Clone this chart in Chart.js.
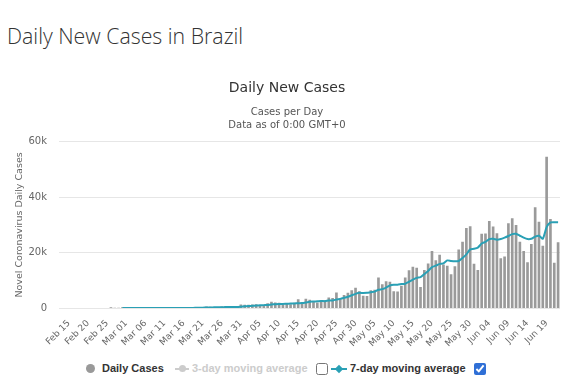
<!DOCTYPE html>
<html>
<head>
<meta charset="utf-8">
<script src="https://cdn.jsdelivr.net/npm/chart.js@4.4.0/dist/chart.umd.min.js"></script>
<style>
  body { margin: 0; background: #fff; width: 575px; height: 386px; overflow: hidden; position: relative; font-family: "DejaVu Sans", sans-serif; }
  #heading { position: absolute; left: 7px; top: 21px; margin: 0; font: 300 21.3px "Open Sans", sans-serif; color: #333; white-space: nowrap; }
  #wrap { position: absolute; left: 0; top: 61px; width: 575px; height: 290px; }
  .lg { position: absolute; font: bold 11px "Liberation Sans", sans-serif; color: #333; white-space: nowrap; line-height: 12px; }
  .dot { position: absolute; width: 9px; height: 9px; border-radius: 50%; background: #999; }
  .mk { position: absolute; height: 2px; }
  .cb { position: absolute; margin: 0; width: 12px; height: 12px; accent-color: #2f6fd6; }
</style>
</head>
<body>
<div id="heading">Daily New Cases in Brazil</div>
<div id="wrap"><canvas id="myChart"></canvas></div>

<div class="dot" style="left:86px; top:364px;"></div>
<div class="lg" style="left:102px; top:362px;">Daily Cases</div>
<div class="mk" style="left:175px; top:368px; width:14px; background:#ccc;"></div>
<div class="dot" style="left:179px; top:365px; width:7px; height:7px; background:#ccc;"></div>
<div class="lg" style="left:192px; top:362px; color:#ccc;">3-day moving average</div>
<input class="cb" type="checkbox" style="left:316px; top:363px;">
<div class="mk" style="left:331px; top:368px; width:16px; background:#2aa0b5;"></div>
<div class="mk" style="left:336px; top:366px; width:6px; height:6px; background:#2aa0b5; transform:rotate(45deg);"></div>
<div class="lg" style="left:350px; top:362px;">7-day moving average</div>
<input class="cb" type="checkbox" checked style="left:474px; top:363px;">

<script>
// daily new cases, Feb 15 .. Jun 22 (null before the first case)
var dailyCases = [
  null, null, null, null, null, null, null, null, null, null, null,
  1, 0, 0, 1,
  // March
  0, 0, 0, 2, 5, 5, 6, 6, 0, 9, 18, 25, 21, 23, 79, 34, 57, 137, 193, 283,
  224, 418, 345, 310, 232, 482, 502, 487, 352, 323, 1138,
  // April
  1119, 1074, 1146, 1222, 852, 926, 1661, 2210, 1930, 1781, 1089, 1442, 1261, 1832, 3058,
  2105, 3257, 2917, 2055, 1927, 2498, 2678, 3735, 3503, 5514, 3379, 4613, 5385, 6276, 7218,
  // May
  6000, 4300, 4200, 6300, 6500, 10900, 8500, 9600, 9400, 6000, 5900, 7900, 10900, 13500, 14800,
  14400, 7500, 13600, 16000, 20500, 17100, 19100, 15600, 15200, 12100, 15000, 21000, 23800, 28800, 29400, 15900,
  // June
  13600, 26700, 26800, 31300, 29300, 26900, 17900, 18500, 30500, 32300, 29900, 23800, 20500, 16400, 23000,
  36300, 31000, 22400, 54500, 32000, 16200, 23600
];

// 7-day moving average
var avg7 = [
  null, null, null, null, null, null, null, null, null, null, null, null, null, null,
  0,
  // March
  0, 0, 0, 0, 1, 2, 3, 3, 3, 5, 7, 10, 12, 15, 25, 30, 37, 54, 78, 115,
  144, 192, 237, 273, 286, 328, 359, 397, 387, 384, 502,
  // April
  629, 714, 806, 911, 982, 1068, 1143, 1299, 1421, 1512, 1493, 1577, 1625, 1649, 1770,
  1795, 2006, 2267, 2355, 2450, 2545, 2491, 2724, 2759, 3130, 3319, 3703, 4115, 4629, 5127,
  // May
  5500, 5450, 5500, 5750, 5950, 6600, 6850, 7400, 8150, 8450, 8450, 8650, 8800, 9500, 10250,
  10900, 11150, 12250, 13400, 14800, 15300, 15950, 16150, 17200, 17000, 16900, 17000, 18100, 19400, 21200, 21400,
  // June
  21800, 23300, 23900, 24900, 25000, 24700, 24900, 25400, 26000, 26700, 26800, 26100, 25400, 24900, 25000,
  25800, 26100, 25000, 29200, 30900, 31000, 31000
];

var tickLabels = [
  "Feb 15", "Feb 20", "Feb 25", "Mar 01", "Mar 06", "Mar 11", "Mar 16", "Mar 21", "Mar 26", "Mar 31",
  "Apr 05", "Apr 10", "Apr 15", "Apr 20", "Apr 25", "Apr 30", "May 05", "May 10", "May 15", "May 20",
  "May 25", "May 30", "Jun 04", "Jun 09", "Jun 14", "Jun 19"
];

var yTicks = [0, 20000, 40000, 60000];

// one category per day
var months = [["Feb", 15, 29], ["Mar", 1, 31], ["Apr", 1, 30], ["May", 1, 31], ["Jun", 1, 22]];
var days = [];
months.forEach(function (m) {
  for (var d = m[1]; d <= m[2]; d++) {
    days.push(m[0] + " " + (d < 10 ? "0" + d : d));
  }
});

var ctx = document.getElementById("myChart").getContext("2d");
var myChart = new Chart(ctx, {
  data: {
    labels: days,
    datasets: [
      {
        type: "line",
        label: "7-day moving average",
        data: avg7,
        borderColor: "#2aa0b5",
        borderWidth: 2,
        pointRadius: 0,
        tension: 0.2,
        order: 1
      },
      {
        type: "bar",
        label: "Daily Cases",
        data: dailyCases,
        backgroundColor: "#9a9a9a",
        barThickness: 2,
        order: 2
      }
    ]
  },
  options: {
    responsive: true,
    maintainAspectRatio: false,
    animation: false,
    layout: { padding: { left: 14, right: 15, top: 0, bottom: 0 } },
    plugins: {
      legend: { display: false },
      tooltip: { enabled: false },
      title: {
        display: true,
        text: "Daily New Cases",
        color: "#333",
        font: { family: "DejaVu Sans", size: 14, weight: "normal" },
        padding: { top: 19, bottom: 9 }
      },
      subtitle: {
        display: true,
        text: ["Cases per Day", "Data as of 0:00 GMT+0"],
        color: "#555",
        font: { family: "DejaVu Sans", size: 10, lineHeight: 1.3 },
        padding: { top: 0, bottom: 10 }
      }
    },
    scales: {
      x: {
        grid: { display: false },
        border: { display: false },
        ticks: {
          autoSkip: false,
          maxRotation: 45,
          minRotation: 45,
          color: "#666",
          font: { family: "DejaVu Sans", size: 9 },
          padding: 2,
          callback: function (v, i) {
            var l = days[i];
            return tickLabels.indexOf(l) >= 0 ? l : "";
          }
        }
      },
      y: {
        min: 0,
        max: 60000,
        afterFit: function (s) { s.width = 53; },
        afterBuildTicks: function (s) {
          s.ticks = yTicks.map(function (v) { return { value: v }; });
        },
        grid: { color: "#e6e6e6" },
        border: { display: false },
        ticks: {
          color: "#666",
          font: { family: "DejaVu Sans", size: 10 },
          padding: 12,
          callback: function (v) { return v === 0 ? "0" : v / 1000 + "k"; }
        },
        title: {
          display: true,
          text: "Novel Coronavirus Daily Cases",
          color: "#666",
          font: { family: "DejaVu Sans", size: 9.5 },
          padding: 0
        }
      }
    }
  }
});
</script>
</body>
</html>
